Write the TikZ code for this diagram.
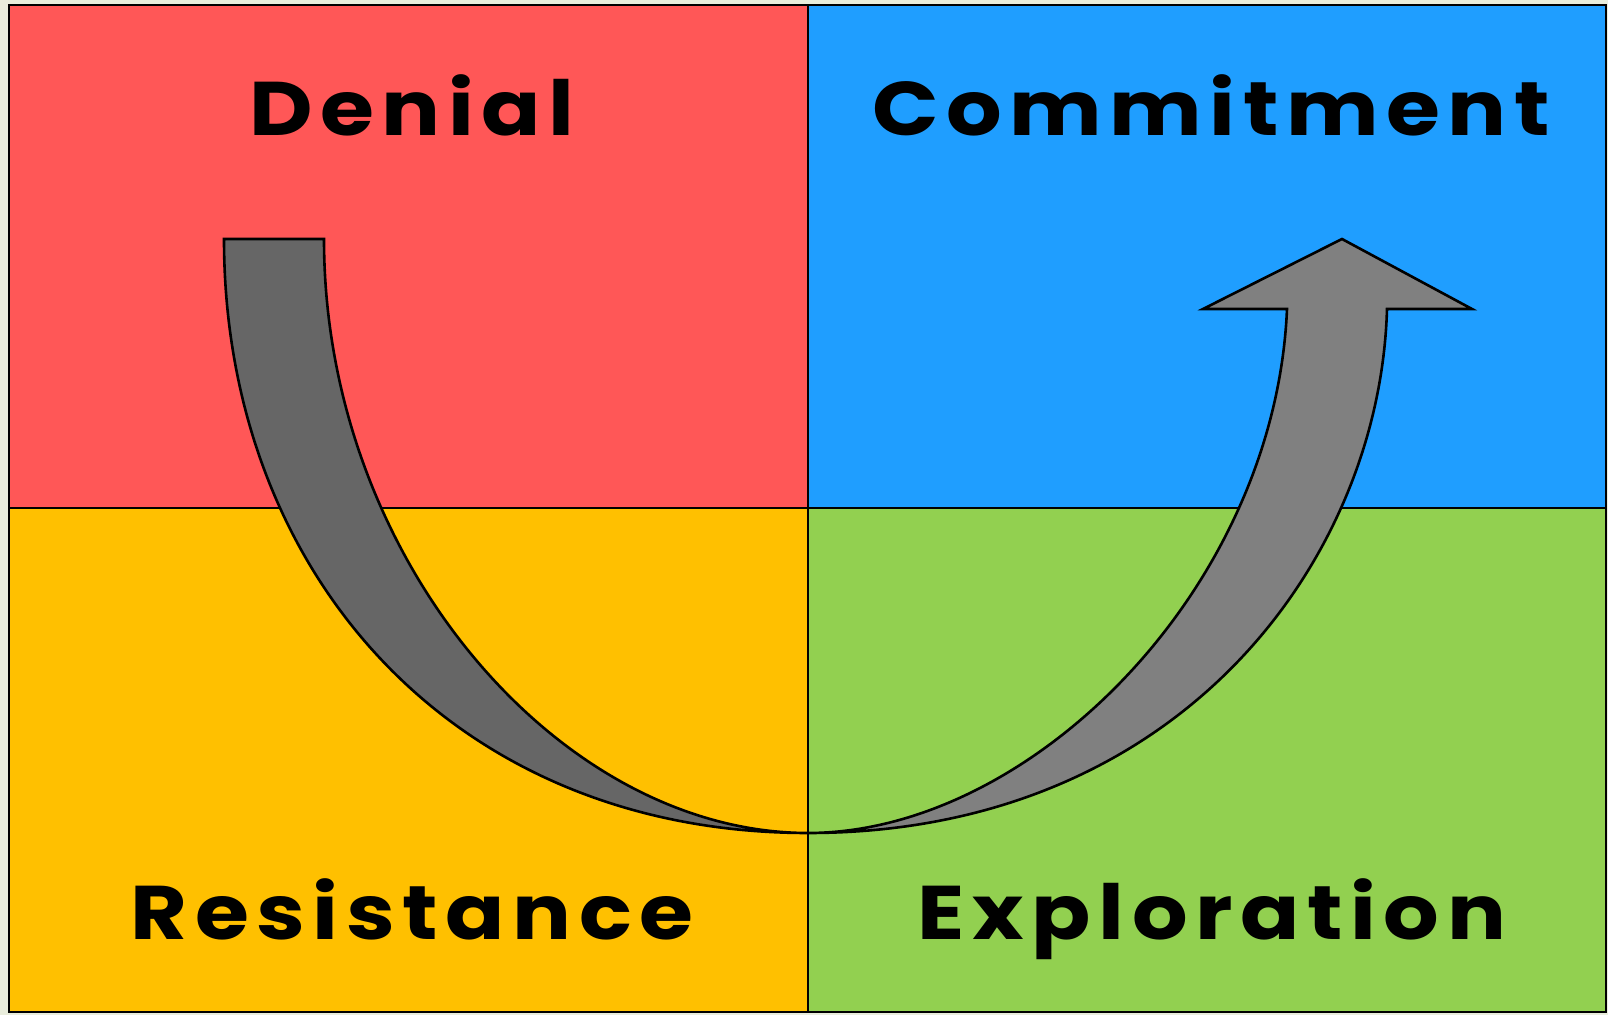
\documentclass[tikz,border=0pt]{standalone}
\usepackage{fontspec}
\newfontfamily\quadfont{Poppins}[LetterSpace=10,FakeStretch=1.15]
\usepackage{xcolor}
\definecolor{paper}{RGB}{233,237,220}
\definecolor{denialred}{RGB}{255,87,87}
\definecolor{commitblue}{RGB}{31,158,255}
\definecolor{resistorange}{RGB}{255,192,0}
\definecolor{explogreen}{RGB}{146,208,80}
\definecolor{tailgray}{RGB}{102,102,102}
\definecolor{headgray}{RGB}{128,128,128}

\begin{document}
\begin{tikzpicture}[x=0.5pt,y=-0.5pt]
	\tikzstyle{quad}=[draw=black,line width=1.2pt]
	\tikzstyle{band}=[draw=black,line width=1.3pt,line join=miter]
	\tikzstyle{stage}=[font=\quadfont\bfseries\fontsize{38}{40}\selectfont,text=black,anchor=base,inner sep=0pt]
	
	\fill[paper] (0,0) rectangle (1608,1015);
	\useasboundingbox (0,0) rectangle (1608,1015);
	
	% the four quadrants
	\fill[denialred] (9,5) rectangle (808,508);
	\fill[commitblue] (808,5) rectangle (1606,508);
	\fill[resistorange] (9,508) rectangle (808,1012);
	\fill[explogreen] (808,508) rectangle (1606,1012);
	\draw[quad] (9,5) rectangle (1606,1012);
	\draw[quad] (808,5) -- (808,1012);
	\draw[quad] (9,508) -- (1606,508);
	
	% labels
	\node[stage] (denial) at (412,136) {Denial};
	\node[stage] (commitment) at (1211,136) {Commitment};
	\node[stage] (resistance) at (412,940) {Resistance};
	\node[stage] (exploration) at (1212,940) {Exploration};
	
	% curved arrow
	\coordinate (bottom) at (808,833);
	\draw[band,fill=tailgray] (224,239) -- (324,239)
		.. controls (324,560) and (560,833) .. (bottom)
		.. controls (450,833) and (224,570) .. (224,239) -- cycle;
	\draw[band,fill=headgray] (bottom)
		.. controls (1030,833) and (1275,590) .. (1287,309)
		-- (1203,309) -- (1342,239) -- (1472,309) -- (1387,309)
		.. controls (1380,560) and (1180,833) .. (bottom) -- cycle;
\end{tikzpicture}
\end{document}
